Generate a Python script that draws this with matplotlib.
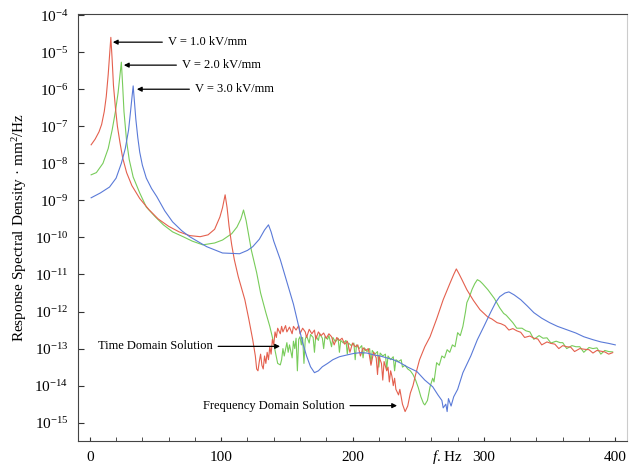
import numpy as np
import matplotlib
matplotlib.use("Agg")
import matplotlib.pyplot as plt
from matplotlib.ticker import MultipleLocator, NullLocator

plt.rcParams["font.family"] = ["Liberation Serif", "DejaVu Serif"]
plt.rcParams["mathtext.fontset"] = "custom"
plt.rcParams["mathtext.rm"] = "Liberation Serif"
plt.rcParams["mathtext.it"] = "Liberation Serif:italic"

# (frequency Hz, log10 PSD mm^2/Hz)
red_pts = [
    (1, -7.50), (4, -7.35), (7, -7.15), (9, -6.95), (11, -6.60), (12.5, -6.20), (14, -5.60), (15, -5.10),
    (16, -4.60), (17, -5.20), (18, -5.90), (19.5, -6.50), (21, -7.00), (23, -7.45), (25, -7.85), (28, -8.25),
    (32, -8.60), (38, -8.95), (45, -9.25), (52, -9.50), (60, -9.70), (68, -9.85), (76, -9.95), (84, -9.98),
    (90, -9.93), (95, -9.78), (99, -9.45), (101, -9.20), (103, -8.85), (104.5, -9.20), (106, -9.70),
    (108, -10.20), (110, -10.60), (113, -11.06), (118, -11.68), (121, -12.20), (124, -12.76),
    (126, -13.20), (127, -13.55), (128, -13.60), (129, -13.35), (130, -13.15), (131, -13.45), (132, -13.55),
    (133, -13.20), (134, -13.40), (135, -13.10), (136, -13.30), (137, -12.95), (138, -13.15), (139, -12.75),
    (140, -12.90), (141, -12.55), (142, -12.70), (143, -12.45), (145, -12.60), (146, -12.40), (147, -12.55),
    (149, -12.38), (150, -12.55), (152, -12.42), (154, -12.60), (155, -12.40), (157, -12.50), (159, -12.38),
    (160, -12.60), (162, -12.45), (164, -12.55), (165, -12.70), (167, -12.48), (169, -12.60), (171, -12.50),
    (172, -12.75), (174, -12.55), (176, -12.65), (178, -12.58), (180, -12.72), (182, -12.60), (184, -12.68),
    (186, -12.90), (188, -12.70), (190, -12.78), (192, -12.72), (194, -12.88), (196, -12.80), (198, -13.10),
    (200, -12.85), (202, -12.95), (204, -12.90), (206, -13.20), (208, -12.98), (210, -13.05), (212, -13.00),
    (214, -13.45), (216, -13.10), (218, -13.25), (219, -13.70), (220, -13.20), (222, -13.40), (223, -13.85),
    (224, -13.35), (226, -13.60), (227, -13.50), (228, -13.90), (229, -13.60), (230, -13.75), (231, -14.00),
    (232, -13.80), (233, -14.10), (235, -14.25), (236, -14.10), (238, -14.50), (240, -14.70), (242, -14.55),
    (244, -14.20), (246, -14.00), (248, -13.70), (251, -13.30), (255, -12.95), (259, -12.68), (264, -12.20),
    (269, -11.68), (274, -11.25), (277, -11.00), (279, -10.85), (281, -10.98), (283, -11.12), (287, -11.41),
    (292, -11.70), (297, -11.95), (300, -12.05), (303, -12.15), (306, -12.20), (310, -12.30), (313, -12.33),
    (316, -12.38), (319, -12.50), (322, -12.46), (325, -12.52), (328, -12.56), (331, -12.70), (335, -12.66),
    (338, -12.72), (341, -12.74), (344, -12.90), (348, -12.82), (351, -12.86), (354, -12.88), (357, -13.00),
    (360, -12.92), (363, -12.95), (366, -12.96), (369, -13.08), (373, -13.00), (377, -13.02), (380, -13.03),
    (383, -13.12), (386, -13.05), (389, -13.07), (392, -13.09), (395, -13.15), (398, -13.11),
]

green_pts = [
    (1, -8.31), (5, -8.25), (10, -8.00), (14, -7.60), (17, -7.10), (19.5, -6.60), (21.5, -6.10), (23, -5.60),
    (24, -5.27), (25, -5.90), (26, -6.60), (28, -7.40), (30, -7.90), (33, -8.37), (38, -8.80), (43, -9.18),
    (50, -9.45), (56, -9.66), (63, -9.85), (71, -9.98), (78, -10.10), (86, -10.20), (95, -10.15),
    (101, -10.07), (108, -9.90), (112, -9.72), (115, -9.50), (117, -9.26), (119, -9.55), (121, -9.95),
    (123, -10.35), (125, -10.65), (127, -10.95), (130, -11.50), (134, -12.03), (137, -12.40), (139, -12.70),
    (141, -13.05), (143, -13.40), (145, -13.44), (146, -13.30), (147, -13.00), (148, -13.20), (150, -12.84),
    (151, -13.10), (152, -12.90), (154, -13.25), (155, -12.80), (156, -13.00), (157, -12.72), (158, -13.60),
    (159, -12.75), (160, -12.68), (161, -12.90), (162, -12.70), (163, -13.40), (164, -12.75), (165, -12.65),
    (167, -12.85), (168, -12.62), (170, -12.70), (171, -13.10), (172, -12.65), (174, -12.78), (175, -12.60),
    (177, -12.72), (178, -13.00), (179, -12.68), (181, -12.75), (182, -12.65), (184, -12.95), (185, -12.70),
    (187, -12.82), (189, -12.72), (190, -13.10), (191, -12.78), (193, -12.85), (195, -12.78), (196, -13.15),
    (197, -12.85), (199, -12.92), (201, -12.85), (202, -13.30), (203, -12.90), (205, -13.00), (207, -12.92),
    (208, -13.25), (209, -12.98), (211, -13.08), (213, -13.00), (214, -13.40), (215, -13.05), (217, -13.15),
    (219, -13.08), (220, -13.50), (221, -13.12), (223, -13.20), (225, -13.15), (226, -13.55), (227, -13.20),
    (229, -13.30), (231, -13.22), (232, -13.60), (233, -13.30), (235, -13.35), (237, -13.30), (238, -13.50),
    (240, -13.45), (242, -13.55), (244, -13.60), (246, -13.70), (248, -13.85), (250, -14.05), (252, -14.30),
    (254, -14.48), (255, -14.52), (257, -14.40), (259, -14.03), (261, -13.80), (262, -13.90), (264, -13.38),
    (266, -13.45), (268, -13.20), (270, -13.25), (272, -13.03), (274, -13.10), (276, -12.90), (278, -12.95),
    (280, -12.57), (282, -12.65), (284, -12.40), (286, -12.00), (287, -11.76), (289, -11.60), (291, -11.40),
    (293, -11.25), (295, -11.14), (297, -11.18), (299, -11.25), (303, -11.41), (308, -11.65), (312, -11.90),
    (315, -12.05), (317, -12.10), (320, -12.22), (322, -12.30), (325, -12.45), (329, -12.45), (332, -12.52),
    (335, -12.55), (338, -12.75), (342, -12.65), (345, -12.72), (348, -12.71), (351, -12.85), (355, -12.80),
    (358, -12.84), (360, -12.84), (363, -13.00), (367, -12.92), (370, -12.95), (373, -12.95), (376, -13.10),
    (380, -12.97), (383, -13.00), (386, -12.98), (389, -13.15), (392, -13.05), (395, -13.08), (398, -13.09),
]

blue_pts = [
    (1, -8.93), (8, -8.80), (15, -8.64), (20, -8.40), (24, -8.00), (27, -7.60), (29.5, -7.10), (31, -6.60),
    (32, -6.25), (33, -5.91), (34, -6.35), (35, -6.80), (36.5, -7.30), (38, -7.70), (40, -8.05), (43, -8.40),
    (47, -8.68), (51, -8.90), (57, -9.28), (63, -9.58), (70, -9.82), (76, -9.98), (89, -10.25), (101, -10.42),
    (114, -10.44), (120, -10.35), (124, -10.25), (129, -10.05), (133, -9.80), (136, -9.66), (138, -9.85),
    (140, -10.10), (142, -10.30), (145, -10.60), (150, -11.20), (155, -11.80), (159, -12.40), (162, -12.84),
    (165, -13.20), (168, -13.49), (171, -13.65), (174, -13.60), (177, -13.49), (181, -13.40), (185, -13.30),
    (190, -13.22), (196, -13.17), (201, -13.13), (206, -13.11), (211, -13.12), (216, -13.17), (221, -13.20),
    (226, -13.25), (231, -13.30), (236, -13.38), (242, -13.50), (249, -13.62), (255, -13.85), (261, -14.03),
    (265, -14.25), (268, -14.40), (269, -14.60), (271, -14.50), (272, -14.70), (273, -14.35), (275, -14.55),
    (277, -14.30), (280, -14.10), (284, -13.65), (290, -13.20), (295, -12.76), (300, -12.40), (305, -12.03),
    (309, -11.75), (312, -11.60), (316, -11.50), (319, -11.47), (323, -11.55), (328, -11.68), (333, -11.85),
    (338, -12.03), (344, -12.18), (350, -12.30), (356, -12.40), (363, -12.49), (370, -12.58), (376, -12.68),
    (383, -12.76), (389, -12.82), (395, -12.86), (400, -12.90),
]

fig = plt.figure(figsize=(6.29, 4.67), dpi=100)
ax = fig.add_axes([0.124, 0.056, 0.873, 0.914])

for pts, col in [(green_pts, "#78cc5a"), (red_pts, "#e4604e"), (blue_pts, "#5a7ad8")]:
    f, lg = zip(*pts)
    ax.plot(f, 10.0 ** np.array(lg), color=col, lw=0.8)

ax.set_yscale("log")
ax.set_xlim(-9, 409)
ax.set_ylim(10 ** -15.49, 10 ** -3.97)
ax.set_yticks([10.0 ** -k for k in range(4, 16)])
ax.yaxis.set_minor_locator(NullLocator())
ax.xaxis.set_major_locator(MultipleLocator(100))
ax.xaxis.set_minor_locator(MultipleLocator(20))
ax.tick_params(axis="both", which="both", direction="in", labelsize=11, pad=7, color="#333333")
ax.tick_params(axis="y", which="major", length=4)
ax.tick_params(axis="x", which="both", length=3)

for side in ["left", "bottom", "top"]:
    ax.spines[side].set_color("#444444")
ax.spines["right"].set_color("#cccccc")

ax.set_ylabel("Response Spectral Density · mm$^2$/Hz", fontsize=11, labelpad=4)
ax.text(260.5, -0.037, r"$\it{f}$. Hz", transform=ax.get_xaxis_transform(),
        fontsize=11, ha="left", va="center")

arrow = dict(arrowstyle="-|>", color="black", lw=0.9, mutation_scale=7, shrinkA=2, shrinkB=0)
ax.annotate("V = 1.0 kV/mm", xy=(17.5, 10 ** -4.73), xytext=(59.4, 10 ** -4.73),
            fontsize=9, ha="left", va="center", arrowprops=arrow)
ax.annotate("V = 2.0 kV/mm", xy=(25.9, 10 ** -5.35), xytext=(70.1, 10 ** -5.35),
            fontsize=9, ha="left", va="center", arrowprops=arrow)
ax.annotate("V = 3.0 kV/mm", xy=(35.8, 10 ** -6.0), xytext=(80.0, 10 ** -6.0),
            fontsize=9, ha="left", va="center", arrowprops=arrow)
ax.annotate("Time Domain Solution", xy=(144.8, 10 ** -12.94), xytext=(6.1, 10 ** -12.94),
            fontsize=9, ha="left", va="center", arrowprops=arrow)
ax.annotate("Frequency Domain Solution", xy=(233.9, 10 ** -14.54), xytext=(86.1, 10 ** -14.54),
            fontsize=9, ha="left", va="center", arrowprops=arrow)

fig.savefig("out.png", dpi=100)
